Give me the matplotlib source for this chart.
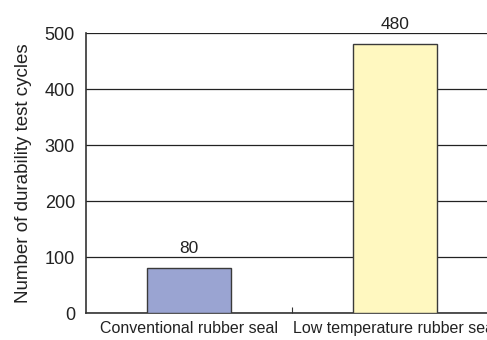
import matplotlib
matplotlib.use("Agg")
import matplotlib.pyplot as plt

# durability test results
categories = ["Conventional rubber seal", "Low temperature rubber seal"]
cycles = [80, 480]
bar_colors = ["#9aa4d2", "#fff8c0"]
yticks = [0, 100, 200, 300, 400, 500]

plt.rcParams["font.family"] = ["Liberation Sans", "DejaVu Sans"]

fig = plt.figure(figsize=(4.87, 3.4), dpi=100)
# axes runs past the right edge of the figure, so the last label gets cut
ax = fig.add_axes([86 / 487, 27 / 340, 412 / 487, 280 / 340])

x = range(len(categories))
bars = ax.bar(x, cycles, width=0.41, color=bar_colors, edgecolor="#3a3a3a",
              linewidth=1.0, zorder=3)
for b, v in zip(bars, cycles):
    ax.annotate(str(v), (b.get_x() + b.get_width() / 2, v),
                xytext=(0, 8.5), textcoords="offset points",
                ha="center", va="bottom", fontsize=12.5, color="#222222")

ax.set_xlim(-0.5, 1.5)
ax.set_ylim(0, 500)
ax.set_yticks(yticks)
ax.set_yticklabels([str(t) for t in yticks], fontsize=13, color="#222222")
ax.tick_params(axis="y", length=0, pad=8)
ax.yaxis.grid(True, color="#222222", linewidth=0.9, zorder=0)

# category labels without ticks, single divider tick between categories
ax.set_xticks([0.5])
ax.set_xticklabels([""])
ax.tick_params(axis="x", direction="in", length=4, color="#333333")
for i, c in enumerate(categories):
    ax.text(i, -15, c, ha="center", va="top", fontsize=11.5, color="#222222")

ax.set_ylabel("Number of durability test cycles", fontsize=13.5,
              color="#222222", labelpad=9)

for s in ["top", "right"]:
    ax.spines[s].set_visible(False)
for s in ["left", "bottom"]:
    ax.spines[s].set_color("#333333")
    ax.spines[s].set_linewidth(1.2)

fig.savefig("out.png", dpi=100)
